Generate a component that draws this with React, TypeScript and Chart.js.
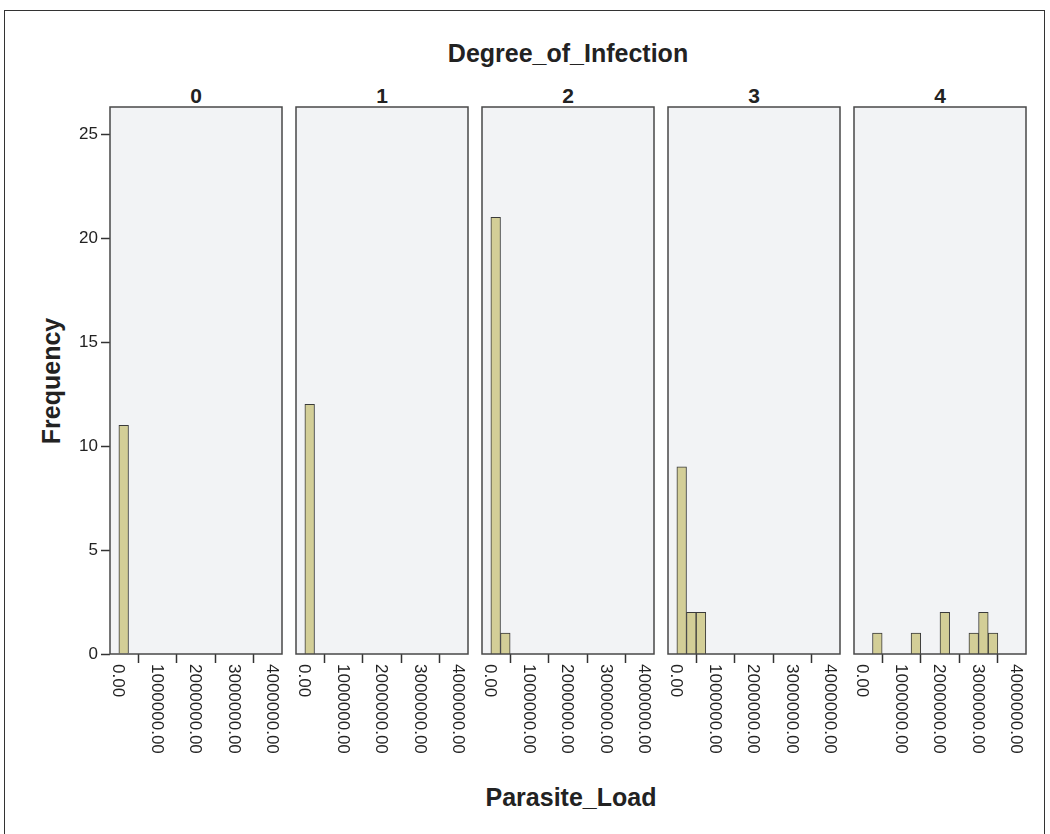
import React, { useEffect, useRef } from "react";
import { Chart, registerables } from "chart.js";

Chart.register(...registerables);

// ---------- data ----------
const FACET_LABELS = ["0", "1", "2", "3", "4"];
const BIN_WIDTH = 250000;

const DEG0_BIN_STARTS = [0];
const DEG0_COUNTS = [11];
const DEG1_BIN_STARTS = [0];
const DEG1_COUNTS = [12];
const DEG2_BIN_STARTS = [0, 250000];
const DEG2_COUNTS = [21, 1];
const DEG3_BIN_STARTS = [0, 250000, 500000];
const DEG3_COUNTS = [9, 2, 2];
const DEG4_BIN_STARTS = [250000, 1250000, 2000000, 2750000, 3000000, 3250000];
const DEG4_COUNTS = [1, 1, 2, 1, 2, 1];

const X_TICKS = [0, 1000000, 2000000, 3000000, 4000000];
const X_TICK_LABELS = ["0.00", "1000000.00", "2000000.00", "3000000.00", "4000000.00"];
const Y_TICKS = [0, 5, 10, 15, 20, 25];

const X_MIN = -230000;
const X_MAX = 4230000;
const Y_MIN = 0;
const Y_MAX = 26.3;

const TITLE = "Degree_of_Infection";
const X_TITLE = "Parasite_Load";
const Y_TITLE = "Frequency";

// ---------- layout / style ----------
const FONT = '"Liberation Sans", Arial, Helvetica, sans-serif';
const PANEL_LEFTS = [110, 296, 482, 668, 854];
const PANEL_W = 172;
const PANEL_TOP = 107;
const PANEL_H = 547;
const CANVAS_TOP = 100;
const CANVAS_H = 680;
const LEFT_EXTRA = 60;
const RIGHT_EXTRA = 14;
const CANVAS_W = LEFT_EXTRA + PANEL_W + RIGHT_EXTRA;

const BAR_FILL = "#d3ce97";
const BAR_EDGE = "#3a3a3a";
const PANEL_BG = "#f2f3f5";
const PANEL_EDGE = "#484848";
const TEXT = "#222";

const SERIES = [
  { starts: DEG0_BIN_STARTS, counts: DEG0_COUNTS },
  { starts: DEG1_BIN_STARTS, counts: DEG1_COUNTS },
  { starts: DEG2_BIN_STARTS, counts: DEG2_COUNTS },
  { starts: DEG3_BIN_STARTS, counts: DEG3_COUNTS },
  { starts: DEG4_BIN_STARTS, counts: DEG4_COUNTS },
];

const panelPlugin = {
  id: "panelDecor",
  beforeDraw(chart: any) {
    const { ctx, chartArea: a } = chart;
    ctx.save();
    ctx.fillStyle = PANEL_BG;
    ctx.fillRect(a.left, a.top, a.right - a.left, a.bottom - a.top);
    ctx.restore();
  },
  afterDraw(chart: any) {
    const { ctx, chartArea: a } = chart;
    ctx.save();
    ctx.strokeStyle = PANEL_EDGE;
    ctx.lineWidth = 1.5;
    ctx.strokeRect(a.left, a.top, a.right - a.left, a.bottom - a.top);
    // x tick labels, rotated clockwise (reading top to bottom)
    const xs = chart.scales.x;
    ctx.fillStyle = TEXT;
    ctx.font = `17px ${FONT}`;
    ctx.textAlign = "left";
    ctx.textBaseline = "middle";
    X_TICKS.forEach((v, i) => {
      const px = xs.getPixelForValue(v);
      ctx.save();
      ctx.translate(px - 1, a.bottom + 10);
      ctx.rotate(Math.PI / 2);
      ctx.fillText(X_TICK_LABELS[i], 0, 0);
      ctx.restore();
    });
    ctx.restore();
  },
};

function Panel({ index }: { index: number }) {
  const ref = useRef<HTMLCanvasElement | null>(null);
  useEffect(() => {
    if (!ref.current) return;
    const s = SERIES[index];
    const data = s.starts.map((st, i) => ({ x: st + BIN_WIDTH / 2, y: s.counts[i] }));
    const barPx = (BIN_WIDTH * PANEL_W) / (X_MAX - X_MIN);
    const showY = index === 0;
    const chart = new Chart(ref.current, {
      type: "bar",
      data: {
        datasets: [
          {
            data,
            backgroundColor: BAR_FILL,
            borderColor: BAR_EDGE,
            borderWidth: 1,
            barThickness: barPx,
          } as any,
        ],
      },
      options: {
        responsive: false,
        maintainAspectRatio: false,
        animation: false,
        events: [],
        layout: {
          autoPadding: false,
          padding: { left: 0, right: RIGHT_EXTRA, top: PANEL_TOP - CANVAS_TOP, bottom: 0 },
        } as any,
        plugins: { legend: { display: false }, tooltip: { enabled: false }, title: { display: false } },
        scales: {
          x: {
            type: "linear",
            min: X_MIN,
            max: X_MAX,
            offset: false,
            afterBuildTicks: (sc: any) => {
              sc.ticks = X_TICKS.map((v) => ({ value: v }));
            },
            afterFit: (sc: any) => {
              sc.height = CANVAS_H - (PANEL_TOP - CANVAS_TOP) - PANEL_H;
              sc.paddingLeft = 0;
              sc.paddingRight = 0;
              sc.paddingTop = 0;
              sc.paddingBottom = 0;
            },
            ticks: { display: false },
            border: { display: false },
            grid: {
              display: true,
              drawOnChartArea: false,
              drawTicks: true,
              tickLength: 9,
              tickColor: "#333",
              tickWidth: 1.5,
            },
          },
          y: {
            type: "linear",
            display: true,
            min: Y_MIN,
            max: Y_MAX,
            afterBuildTicks: (sc: any) => {
              sc.ticks = Y_TICKS.map((v) => ({ value: v }));
            },
            afterFit: (sc: any) => {
              sc.width = LEFT_EXTRA;
              sc.paddingLeft = 0;
              sc.paddingRight = 0;
              sc.paddingTop = 0;
              sc.paddingBottom = 0;
            },
            ticks: {
              display: showY,
              color: TEXT,
              font: { family: FONT, size: 17 },
              padding: 3,
              callback: (v: any) => String(v),
            },
            border: { display: false },
            grid: {
              display: showY,
              drawOnChartArea: false,
              drawTicks: true,
              tickLength: 9,
              tickColor: "#333",
              tickWidth: 1.5,
            },
          },
        },
      },
      plugins: [panelPlugin],
    });
    return () => chart.destroy();
  }, [index]);
  return (
    <canvas
      ref={ref}
      width={CANVAS_W}
      height={CANVAS_H}
      style={{
        position: "absolute",
        left: PANEL_LEFTS[index] - LEFT_EXTRA,
        top: CANVAS_TOP,
        width: CANVAS_W,
        height: CANVAS_H,
      }}
    />
  );
}

const centered = (x: number, y: number, extra: React.CSSProperties = {}): React.CSSProperties => ({
  position: "absolute",
  left: x,
  top: y,
  transform: "translate(-50%, -50%)",
  whiteSpace: "nowrap",
  fontFamily: FONT,
  fontWeight: "bold",
  color: TEXT,
  lineHeight: 1,
  ...extra,
});

export default function App() {
  return (
    <div style={{ position: "absolute", left: 0, top: 0, width: 1050, height: 834, background: "#fff", overflow: "hidden" }}>
      <div
        style={{
          position: "absolute",
          left: 4,
          top: 10,
          width: 1041,
          height: 840,
          border: "1px solid #333",
          boxSizing: "border-box",
        }}
      />
      <div style={centered(568, 53, { fontSize: 25 })}>{TITLE}</div>
      {FACET_LABELS.map((f, i) => (
        <div key={f} style={centered(PANEL_LEFTS[i] + PANEL_W / 2, 95, { fontSize: 21 })}>
          {f}
        </div>
      ))}
      <div style={centered(51, 381, { fontSize: 25, transform: "translate(-50%, -50%) rotate(-90deg)" })}>{Y_TITLE}</div>
      <div style={centered(571, 797, { fontSize: 25 })}>{X_TITLE}</div>
      {FACET_LABELS.map((f, i) => (
        <Panel key={"p" + f} index={i} />
      ))}
    </div>
  );
}
